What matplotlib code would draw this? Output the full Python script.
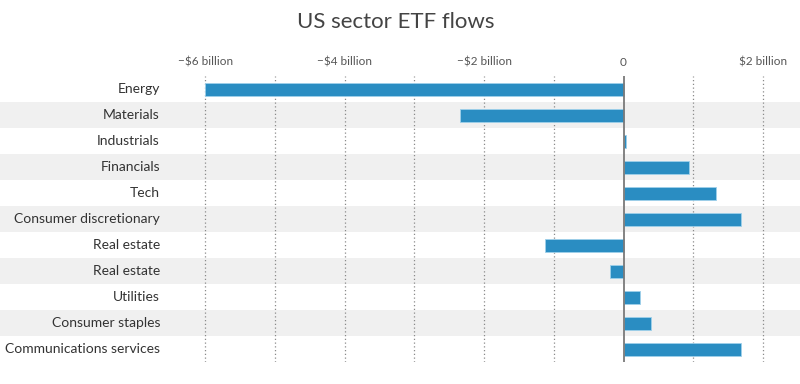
import matplotlib.pyplot as plt
from matplotlib.transforms import blended_transform_factory

sectors = ['Energy', 'Materials', 'Industrials', 'Financials', 'Tech',
           'Consumer discretionary', 'Real estate', 'Real estate', 'Utilities',
           'Consumer staples', 'Communications services']
flows = [-6.0, -2.35, 0.04, 0.94, 1.32, 1.69, -1.13, -0.19, 0.24, 0.40, 1.69]  # $ billion
tick_vals = [-6, -4, -2, 0, 2]
tick_labels = ['\u2212$6 billion', '\u2212$4 billion', '\u2212$2 billion', '0', '$2 billion']
grid_vals = [-6, -5, -4, -3, -2, -1, 1, 2]

plt.rcParams['font.family'] = ['Lato', 'DejaVu Sans']

fig = plt.figure(figsize=(8, 3.84), dpi=100)
# axes covers whole width so the row bands run under the labels
ax = fig.add_axes([0, 22 / 384, 1, 286 / 384])
px = 69.7  # pixels per billion
ax.set_xlim(-623.5 / px, (800 - 623.5) / px)
ax.set_ylim(len(sectors) - 0.5, -0.5)

for i in range(len(sectors)):
    if i % 2 == 1:
        ax.axhspan(i - 0.5, i + 0.5, color='#f0f0f0', lw=0, zorder=0)

for g in grid_vals:
    ax.axvline(g, color='#8a8a8a', lw=0.9, ls=(0, (1, 2)), zorder=1)
ax.axvline(0, color='#7a7a7a', lw=1.3, zorder=3)

ax.barh(range(len(sectors)), flows, height=0.5, color='#2a8dc2',
        edgecolor='#9fd0ea', linewidth=0.6, zorder=2)

trans = blended_transform_factory(fig.transFigure, ax.transData)
for i, s in enumerate(sectors):
    ax.text(160 / 800, i, s, transform=trans, ha='right', va='center',
            fontsize=10, color='#333333')

ax.xaxis.tick_top()
ax.set_xticks(tick_vals)
ax.set_xticklabels(tick_labels, fontsize=8.5, color='#555555')
ax.tick_params(axis='x', length=0, pad=6)
ax.set_yticks([])
for sp in ax.spines.values():
    sp.set_visible(False)

fig.text(0.495, 1 - 22 / 384, 'US sector ETF flows', ha='center', va='center',
         fontsize=16, color='#444444')

fig.savefig('out.png', dpi=100)
